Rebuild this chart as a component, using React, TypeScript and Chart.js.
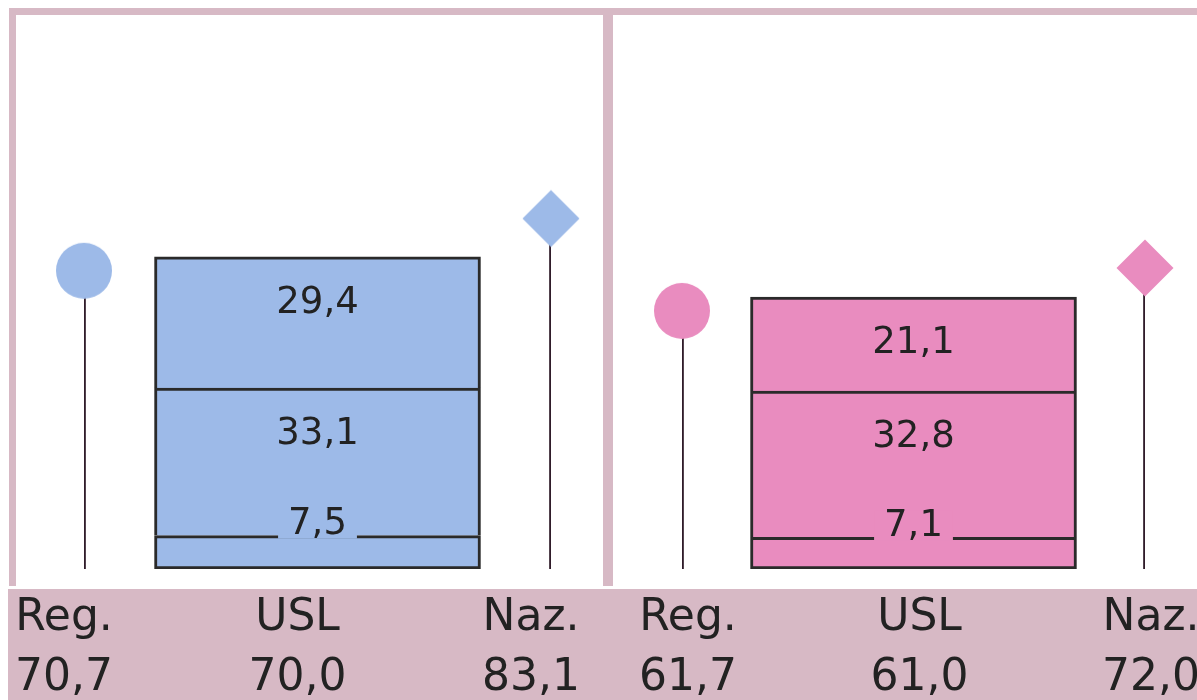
import React, { useEffect, useRef } from "react";
import { Chart, registerables } from "chart.js";

Chart.register(...registerables);

// ---- data ----
const categories = ["Reg.", "USL", "Naz."];
const leftTotals = [70.7, 70.0, 83.1];
const leftUslParts = [7.5, 33.1, 29.4]; // bottom, middle, top
const rightTotals = [61.7, 61.0, 72.0];
const rightUslParts = [7.1, 32.8, 21.1];
const yMax = 120;

const BLUE = "#9dbae8";
const PINK = "#e98cbf";
const MAUVE = "#d7b9c5";
const DARK = "#2a2a2a";
const STEM = "#301c2a";
const FONT = "'DejaVu Sans', Verdana, sans-serif";
const CANVAS_H = 742;

const fmt = (v: number) => v.toFixed(1).replace(".", ",");

function makeMarker(shape: "circle" | "diamond", color: string, drop: number) {
  const c = document.createElement("canvas");
  c.width = 64;
  c.height = 64 + drop * 2;
  const ctx = c.getContext("2d")!;
  const cx = 32;
  const cy = c.height / 2 + drop;
  ctx.fillStyle = color;
  ctx.beginPath();
  if (shape === "circle") {
    ctx.arc(cx, cy, 28, 0, Math.PI * 2);
  } else {
    ctx.moveTo(cx, cy - 28.5);
    ctx.lineTo(cx + 28.5, cy);
    ctx.lineTo(cx, cy + 28.5);
    ctx.lineTo(cx - 28.5, cy);
    ctx.closePath();
  }
  ctx.fill();
  return c;
}

const segLabelPlugin = {
  id: "segLabels",
  afterDatasetsDraw(chart: any) {
    const ctx = chart.ctx;
    ctx.save();
    ctx.font = `37px ${FONT}`;
    ctx.textAlign = "center";
    ctx.textBaseline = "middle";
    chart.data.datasets.forEach((ds: any, i: number) => {
      if (!ds.segLabel) return;
      const meta = chart.getDatasetMeta(i);
      const el: any = meta.data[1];
      if (!el) return;
      const v = ds.data[1];
      const top = Math.min(el.y, el.base);
      const bottom = Math.max(el.y, el.base);
      const txt = fmt(v);
      let y: number;
      if (bottom - top > 60) {
        y = top + 46;
      } else {
        y = top - 11;
        const w = ctx.measureText(txt).width + 20;
        ctx.fillStyle = ds.backgroundColor;
        ctx.fillRect(el.x - w / 2, y - 16, w, 30);
      }
      ctx.fillStyle = "#222";
      ctx.fillText(txt, el.x, y);
    });
    ctx.restore();
  },
};

function buildConfig(
  totals: number[],
  parts: number[],
  color: string,
  labelOffset: number,
  padLeft: number,
  padRight: number
) {
  const circle = makeMarker("circle", color, 17);
  const diamond = makeMarker("diamond", color, 20);
  const segBorders = [
    { top: 3, right: 3, bottom: 3, left: 3 },
    { top: 3, right: 3, bottom: 0, left: 3 },
    { top: 3, right: 3, bottom: 0, left: 3 },
  ];
  const segments = parts.map((p, i) => ({
    type: "bar" as const,
    segLabel: true,
    data: [null, p, null],
    backgroundColor: color,
    borderColor: DARK,
    borderWidth: segBorders[i],
    borderSkipped: false,
    barThickness: 326,
    order: 1,
  }));
  return {
    type: "bar" as const,
    data: {
      labels: categories,
      datasets: [
        {
          type: "line" as const,
          data: [totals[0], null, totals[2]],
          showLine: false,
          pointStyle: (c: any) => (c.dataIndex === 0 ? circle : diamond),
          pointRadius: 28,
          stack: "markers",
          order: 0,
        },
        {
          type: "bar" as const,
          data: [totals[0], null, totals[2]],
          backgroundColor: STEM,
          borderWidth: 0,
          barThickness: 3,
          order: 1,
        },
        ...segments,
      ],
    },
    options: {
      animation: false,
      responsive: false,
      maintainAspectRatio: false,
      events: [],
      layout: { padding: { left: padLeft, right: padRight, top: 34, bottom: 13 } },
      plugins: { legend: { display: false }, tooltip: { enabled: false } },
      scales: {
        x: {
          type: "category",
          offset: false,
          stacked: true,
          border: { display: false },
          grid: { display: false, drawTicks: false, tickLength: 0 },
          ticks: {
            autoSkip: false,
            maxRotation: 0,
            minRotation: 0,
            padding: 20,
            labelOffset,
            color: "#222",
            font: { family: FONT, size: 44, lineHeight: "60px" },
            callback: (_v: any, idx: number) => [categories[idx], fmt(totals[idx])],
          },
        },
        y: {
          display: false,
          stacked: true,
          min: 0,
          max: yMax,
        },
      },
    },
    plugins: [segLabelPlugin],
  };
}

function Panel(props: {
  totals: number[];
  parts: number[];
  color: string;
  labelOffset: number;
  padLeft: number;
  padRight: number;
  left: number;
  width: number;
}) {
  const ref = useRef<HTMLCanvasElement>(null);
  useEffect(() => {
    if (!ref.current) return;
    const chart = new Chart(
      ref.current,
      buildConfig(
        props.totals,
        props.parts,
        props.color,
        props.labelOffset,
        props.padLeft,
        props.padRight
      ) as any
    );
    return () => chart.destroy();
  }, []);
  return (
    <canvas
      ref={ref}
      width={props.width}
      height={CANVAS_H}
      style={{
        position: "absolute",
        left: props.left,
        top: 0,
        width: props.width,
        height: CANVAS_H,
      }}
    />
  );
}

export default function App() {
  return (
    <div
      style={{
        position: "absolute",
        left: 0,
        top: 0,
        width: 1197,
        height: 700,
        overflow: "hidden",
        background: "#ffffff",
      }}
    >
      <div style={{ position: "absolute", left: 9, top: 8, width: 1200, height: 578, background: MAUVE }} />
      <div style={{ position: "absolute", left: 16, top: 15, width: 587, height: 571, background: "#fff" }} />
      <div style={{ position: "absolute", left: 613, top: 15, width: 600, height: 571, background: "#fff" }} />
      <div style={{ position: "absolute", left: 8, top: 589, width: 1200, height: 111, background: MAUVE }} />
      <Panel
        totals={leftTotals}
        parts={leftUslParts}
        color={BLUE}
        labelOffset={-20}
        padLeft={84}
        padRight={79}
        left={0}
        width={630}
      />
      <Panel
        totals={rightTotals}
        parts={rightUslParts}
        color={PINK}
        labelOffset={6}
        padLeft={75}
        padRight={82}
        left={607}
        width={620}
      />
    </div>
  );
}
